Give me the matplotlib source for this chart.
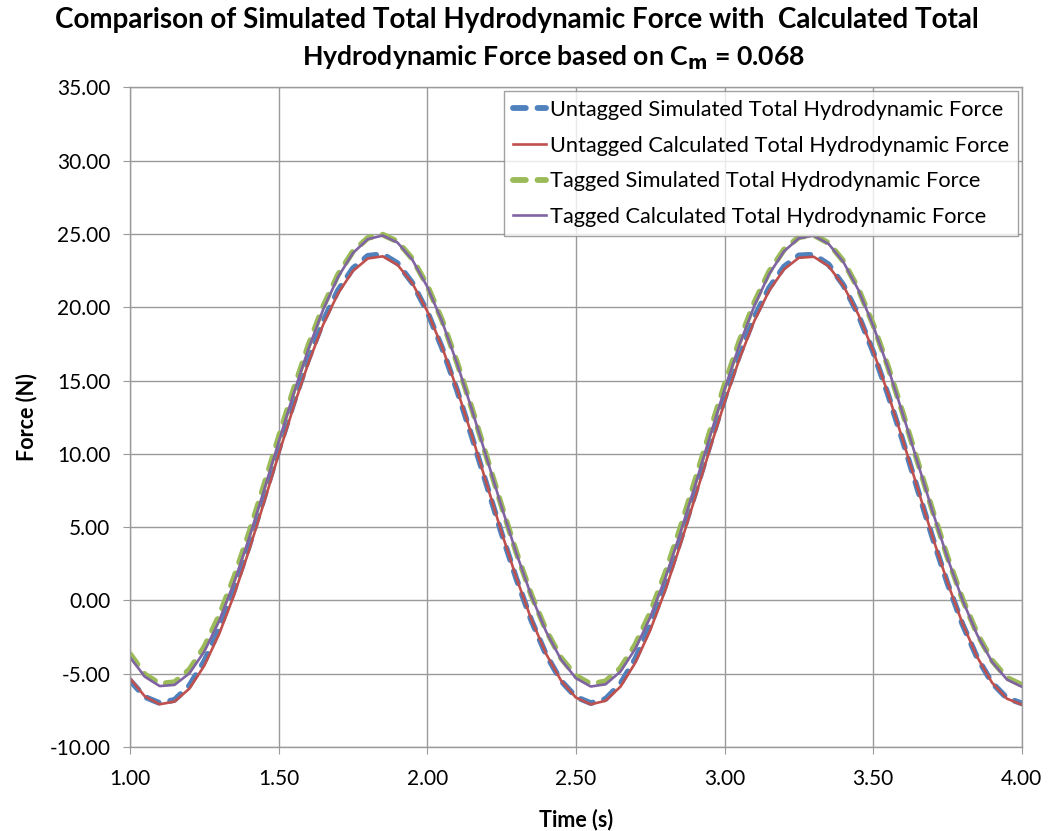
import matplotlib
matplotlib.use('Agg')
import matplotlib.pyplot as plt
from matplotlib.ticker import FormatStrFormatter, MultipleLocator

plt.rcParams['font.family'] = ['Lato', 'DejaVu Sans']

# Datos (paso 0.05 s)
tiempo = [1.00, 1.05, 1.10, 1.15, 1.20, 1.25, 1.30, 1.35, 1.40, 1.45,
          1.50, 1.55, 1.60, 1.65, 1.70, 1.75, 1.80, 1.85, 1.90, 1.95,
          2.00, 2.05, 2.10, 2.15, 2.20, 2.25, 2.30, 2.35, 2.40, 2.45,
          2.50, 2.55, 2.60, 2.65, 2.70, 2.75, 2.80, 2.85, 2.90, 2.95,
          3.00, 3.05, 3.10, 3.15, 3.20, 3.25, 3.30, 3.35, 3.40, 3.45,
          3.50, 3.55, 3.60, 3.65, 3.70, 3.75, 3.80, 3.85, 3.90, 3.95,
          4.00]

untagged_sim = [-5.45, -6.58, -7.00, -6.78, -5.80, -4.15, -1.95, 0.70, 3.70, 6.95,
                10.25, 13.45, 16.45, 19.05, 21.15, 22.65, 23.50, 23.62, 23.00, 21.65,
                19.70, 17.22, 14.35, 11.18, 7.88, 4.58, 1.47, -1.35, -3.70, -5.48,
                -6.58, -7.00, -6.72, -5.68, -3.98, -1.72, 0.98, 4.02, 7.25, 10.58,
                13.78, 16.75, 19.30, 21.32, 22.76, 23.53, 23.58, 22.92, 21.50, 19.48,
                16.96, 14.04, 10.86, 7.55, 4.27, 1.17, -1.60, -3.90, -5.62, -6.66,
                -7.02]

untagged_calc = [-5.31, -6.54, -7.08, -6.90, -6.01, -4.45, -2.29, 0.36, 3.38, 6.62,
                 9.94, 13.18, 16.18, 18.81, 20.94, 22.47, 23.32, 23.47, 22.89, 21.63,
                 19.73, 17.28, 14.42, 11.26, 7.95, 4.65, 1.53, -1.28, -3.65, -5.46,
                 -6.62, -7.09, -6.84, -5.88, -4.25, -2.04, 0.65, 3.70, 6.95, 10.27,
                 13.50, 16.47, 19.05, 21.12, 22.58, 23.37, 23.44, 22.80, 21.46, 19.51,
                 17.02, 14.11, 10.93, 7.62, 4.33, 1.23, -1.54, -3.86, -5.61, -6.70,
                 -7.10]

tagged_sim = [-3.65, -5.05, -5.68, -5.58, -4.72, -3.18, -1.05, 1.55, 4.55, 7.78,
              11.10, 14.35, 17.38, 20.05, 22.22, 23.80, 24.72, 24.95, 24.48, 23.30,
              21.48, 19.10, 16.25, 13.10, 9.78, 6.45, 3.26, 0.38, -2.05, -3.92,
              -5.15, -5.70, -5.52, -4.62, -3.02, -0.85, 1.82, 4.85, 8.10, 11.45,
              14.68, 17.68, 20.30, 22.42, 23.92, 24.78, 24.92, 24.38, 23.14, 21.25,
              18.82, 15.94, 12.76, 9.44, 6.12, 2.96, 0.12, -2.28, -4.10, -5.28,
              -5.76]

tagged_calc = [-3.87, -5.20, -5.84, -5.76, -4.97, -3.49, -1.40, 1.21, 4.21, 7.45,
               10.79, 14.07, 17.13, 19.84, 22.06, 23.69, 24.64, 24.89, 24.41, 23.23,
               21.40, 19.02, 16.18, 13.03, 9.72, 6.39, 3.21, 0.32, -2.13, -4.03,
               -5.30, -5.87, -5.72, -4.85, -3.30, -1.15, 1.49, 4.52, 7.78, 11.13,
               14.39, 17.42, 20.08, 22.25, 23.81, 24.70, 24.88, 24.32, 23.08, 21.19,
               18.75, 15.88, 12.70, 9.38, 6.06, 2.90, 0.06, -2.35, -4.19, -5.39,
               -5.89]

etiquetas = ['Untagged Simulated Total Hydrodynamic Force',
             'Untagged Calculated Total Hydrodynamic Force',
             'Tagged Simulated Total Hydrodynamic Force',
             'Tagged Calculated Total Hydrodynamic Force']

fig = plt.figure(figsize=(10.48, 8.31), dpi=100)
ax = fig.add_axes([0.124, 0.101, 0.851, 0.794])

# Series
ax.plot(tiempo, untagged_sim, color='#4F81BD', lw=4.2, dashes=(2.2, 2.0),
        dash_capstyle='round', label=etiquetas[0])
ax.plot(tiempo, untagged_calc, color='#C0504D', lw=1.9, label=etiquetas[1])
ax.plot(tiempo, tagged_sim, color='#9BBB59', lw=4.2, dashes=(2.2, 2.0),
        dash_capstyle='round', label=etiquetas[2])
ax.plot(tiempo, tagged_calc, color='#8064A2', lw=1.9, label=etiquetas[3])

# Ejes
ax.set_xlim(1.0, 4.0)
ax.set_ylim(-10, 35)
ax.xaxis.set_major_locator(MultipleLocator(0.5))
ax.yaxis.set_major_locator(MultipleLocator(5))
ax.xaxis.set_major_formatter(FormatStrFormatter('%.2f'))
ax.yaxis.set_major_formatter(FormatStrFormatter('%.2f'))
ax.grid(True, color='#9a9a9a', lw=1.0)
ax.set_axisbelow(True)
for s in ax.spines.values():
    s.set_color('#9a9a9a')
    s.set_linewidth(1.0)
ax.tick_params(direction='out', length=5, color='#9a9a9a', labelsize=15)
ax.tick_params(axis='y', pad=9)
ax.tick_params(axis='x', pad=11)

ax.set_xlabel('Time (s)', fontsize=15.5, fontweight='bold', labelpad=14)
ax.set_ylabel('Force (N)', fontsize=15.5, fontweight='bold', labelpad=9)

# Titulo en dos lineas (centradas como en el original)
fig.text(0.493, 0.976, 'Comparison of Simulated Total Hydrodynamic Force with  Calculated Total',
         ha='center', va='center', fontsize=20, fontweight='bold')
fig.text(0.528, 0.931, 'Hydrodynamic Force based on C$_\\mathbf{m}$ = 0.068',
         ha='center', va='center', fontsize=19.2, fontweight='bold')

leg = ax.legend(loc='upper right', bbox_to_anchor=(0.9955, 0.994), borderaxespad=0,
                fontsize=15.7, frameon=True, fancybox=False, edgecolor='#8a8a8a',
                handlelength=1.5, handletextpad=0.2, labelspacing=0.72,
                borderpad=0.4)
leg.get_frame().set_linewidth(1.0)

plt.savefig('out.png', dpi=100)
